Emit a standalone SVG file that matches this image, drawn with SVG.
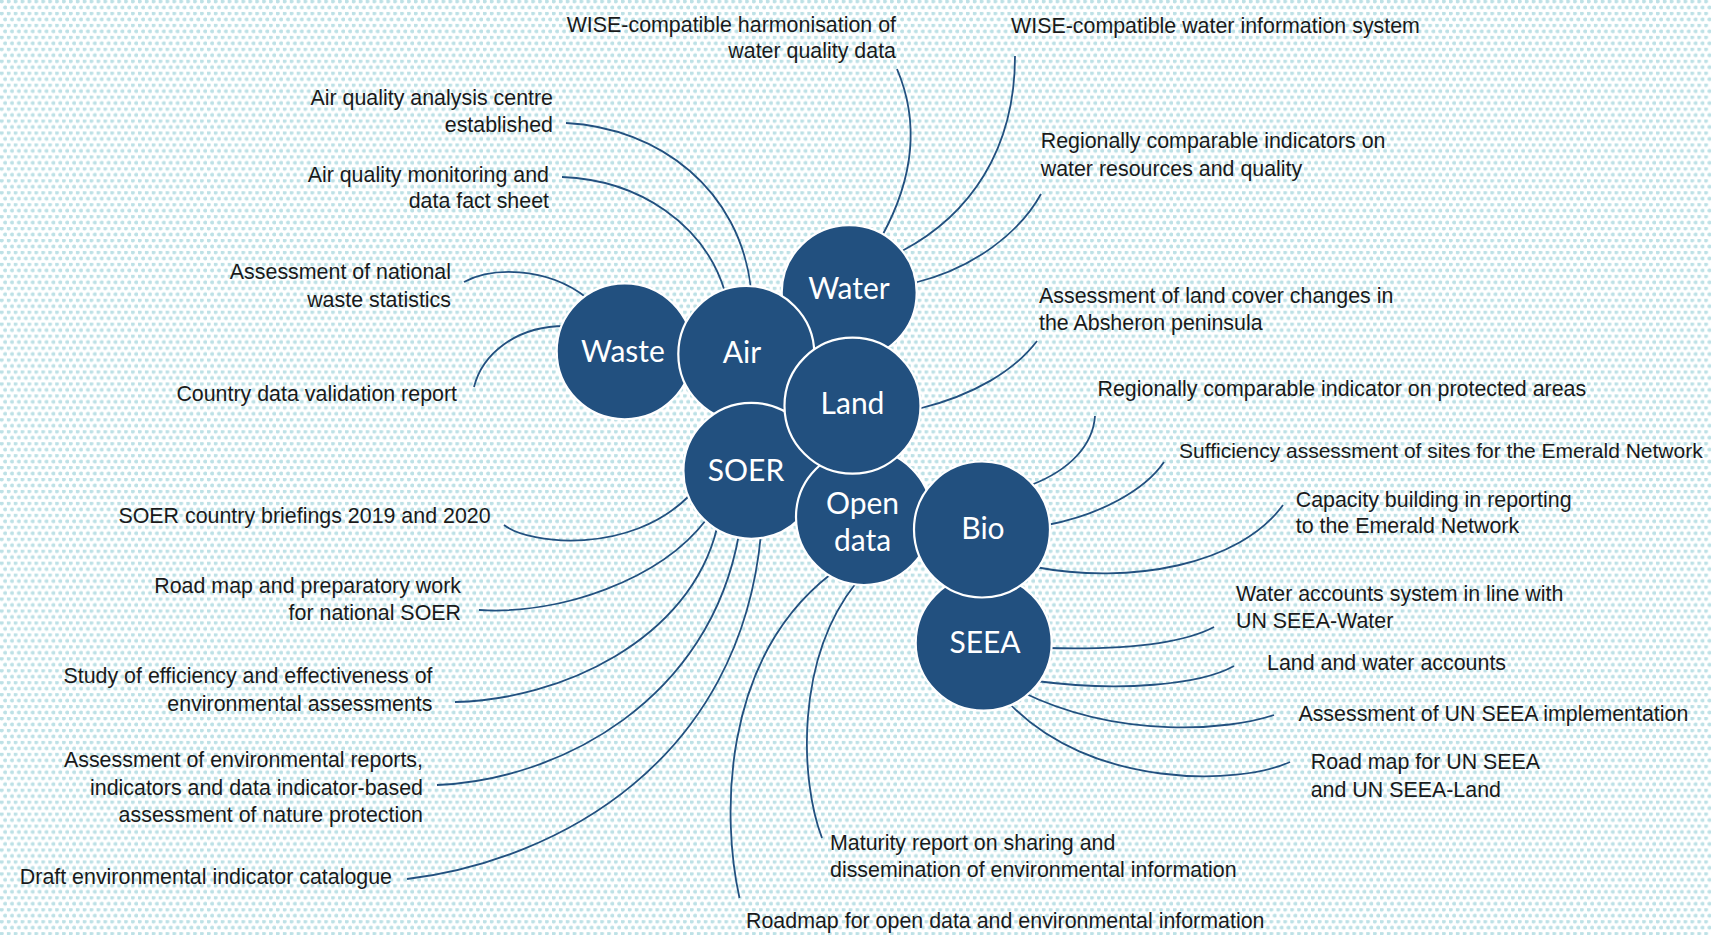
<svg xmlns="http://www.w3.org/2000/svg" width="1711" height="935" viewBox="0 0 1711 935">
<defs>
<pattern id="dots" width="6.9" height="11.95" patternUnits="userSpaceOnUse">
<circle cx="1.7" cy="1.5" r="2.05" fill="#bde1e6"/>
<circle cx="5.15" cy="7.475" r="2.05" fill="#bde1e6"/>
</pattern>
<style>
.lbl{font-family:"Liberation Sans",Arial,sans-serif;font-size:21.4px;fill:#1a1a1a}
.end{text-anchor:end}
.con path{fill:none;stroke:#22507f;stroke-width:1.8}
.node circle{fill:#22507f;stroke:#ffffff;stroke-width:2.2}
.node text{font-family:Lato,"Noto Sans",sans-serif;font-size:30px;fill:#ffffff;text-anchor:middle}
</style>
</defs>
<rect width="1711" height="935" fill="#ffffff"/>
<rect width="1711" height="935" fill="url(#dots)"/>

<g id="connectors" class="con">
<path d="M897,69 Q930.5,147.5 882,236"/>
<path d="M1015,56 C1015,150 970,215 902,251"/>
<path d="M1041,194 C1020,232 975,268 914,283"/>
<path d="M1037,341 C1015,370 975,395 918,409"/>
<path d="M1095,416 C1093,445 1070,470 1031,485"/>
<path d="M1164,462 C1145,490 1100,515 1047,525"/>
<path d="M1283,505 C1240,565 1130,585 1035,567"/>
<path d="M1214,627 C1180,645 1120,650 1046,648"/>
<path d="M1234,666 C1200,685 1120,692 1036,681"/>
<path d="M1274,715 C1230,730 1120,740 1022,692"/>
<path d="M1290,762 C1240,785 1090,790 1007,701"/>
<path d="M822,838 C800,780 795,660 856,583"/>
<path d="M739.5,898 C722,820 720,660 831,574"/>
<path d="M504,525 C530,545 630,555 689,496"/>
<path d="M479,610 C560,615 660,580 706,520"/>
<path d="M455,702 C560,700 690,640 717,528"/>
<path d="M437,785 C560,780 710,700 739,534"/>
<path d="M407,879 C560,860 740,760 761,534"/>
<path d="M464,282 C490,268 545,265 587,298"/>
<path d="M474,387 C482,355 515,326 565,326"/>
<path d="M566,123 C660,128 740,190 751,289"/>
<path d="M562,177 C640,180 705,225 725,292"/>
</g>

<g id="node-waste" class="node"><circle cx="624.7" cy="351.3" r="68"/><text x="623" y="361.7">Waste</text></g>
<g id="node-water" class="node"><circle cx="849.2" cy="292.6" r="67.5"/><text x="849" y="299">Water</text></g>
<g id="node-air" class="node"><circle cx="746.3" cy="354" r="68"/><text x="742" y="362.7">Air</text></g>
<g id="node-soer" class="node"><circle cx="751.4" cy="470.8" r="68"/><text x="746" y="481">SOER</text></g>
<g id="node-seea" class="node"><circle cx="983.7" cy="642.7" r="68"/><text x="985" y="653">SEEA</text></g>
<g id="node-opendata" class="node"><circle cx="864" cy="517" r="68"/><text x="862.5" y="514.3">Open</text><text x="862.5" y="551">data</text></g>
<g id="node-bio" class="node"><circle cx="982" cy="529.5" r="68"/><text x="983" y="539.3">Bio</text></g>
<g id="node-land" class="node"><circle cx="852.5" cy="405.7" r="68"/><text x="852.5" y="414">Land</text></g>

<g id="labels">
<text class="lbl end" x="896" y="31.7">WISE-compatible harmonisation of</text>
<text class="lbl end" x="896" y="58.3">water quality data</text>
<text class="lbl end" x="553" y="105">Air quality analysis centre</text>
<text class="lbl end" x="553" y="131.7">established</text>
<text class="lbl end" x="549" y="181.7">Air quality monitoring and</text>
<text class="lbl end" x="549" y="208.3">data fact sheet</text>
<text class="lbl end" x="451" y="279.3">Assessment of national</text>
<text class="lbl end" x="451" y="306.7">waste statistics</text>
<text class="lbl end" x="457" y="400.7">Country data validation report</text>
<text class="lbl end" x="490.6" y="523.3">SOER country briefings 2019 and 2020</text>
<text class="lbl end" x="461" y="593.3">Road map and preparatory work</text>
<text class="lbl end" x="461" y="620">for national SOER</text>
<text class="lbl end" x="432.5" y="683.3">Study of efficiency and effectiveness of</text>
<text class="lbl end" x="432.5" y="710.7">environmental assessments</text>
<text class="lbl end" x="423" y="767.3">Assessment of environmental reports,</text>
<text class="lbl end" x="423" y="795">indicators and data indicator-based</text>
<text class="lbl end" x="423" y="821.7">assessment of nature protection</text>
<text class="lbl end" x="392" y="884">Draft environmental indicator catalogue</text>
<text class="lbl" x="1011" y="33.3">WISE-compatible water information system</text>
<text class="lbl" x="1040.7" y="148.3">Regionally comparable indicators on</text>
<text class="lbl" x="1040.7" y="176">water resources and quality</text>
<text class="lbl" x="1039" y="302.7">Assessment of land cover changes in</text>
<text class="lbl" x="1039" y="330">the Absheron peninsula</text>
<text class="lbl" x="1097.5" y="396">Regionally comparable indicator on protected areas</text>
<text class="lbl" x="1179" y="457.7" style="font-size:21px">Sufficiency assessment of sites for the Emerald Network</text>
<text class="lbl" x="1295.7" y="506.7">Capacity building in reporting</text>
<text class="lbl" x="1295.7" y="533.3">to the Emerald Network</text>
<text class="lbl" x="1236" y="600.7">Water accounts system in line with</text>
<text class="lbl" x="1236" y="628.3">UN SEEA-Water</text>
<text class="lbl" x="1267" y="670">Land and water accounts</text>
<text class="lbl" x="1298.4" y="720.7">Assessment of UN SEEA implementation</text>
<text class="lbl" x="1310.7" y="769.3">Road map for UN SEEA</text>
<text class="lbl" x="1310.7" y="796.7">and UN SEEA-Land</text>
<text class="lbl" x="830" y="850">Maturity report on sharing and</text>
<text class="lbl" x="830" y="876.7">dissemination of environmental information</text>
<text class="lbl" x="746" y="928.3">Roadmap for open data and environmental information</text>
</g>
</svg>
